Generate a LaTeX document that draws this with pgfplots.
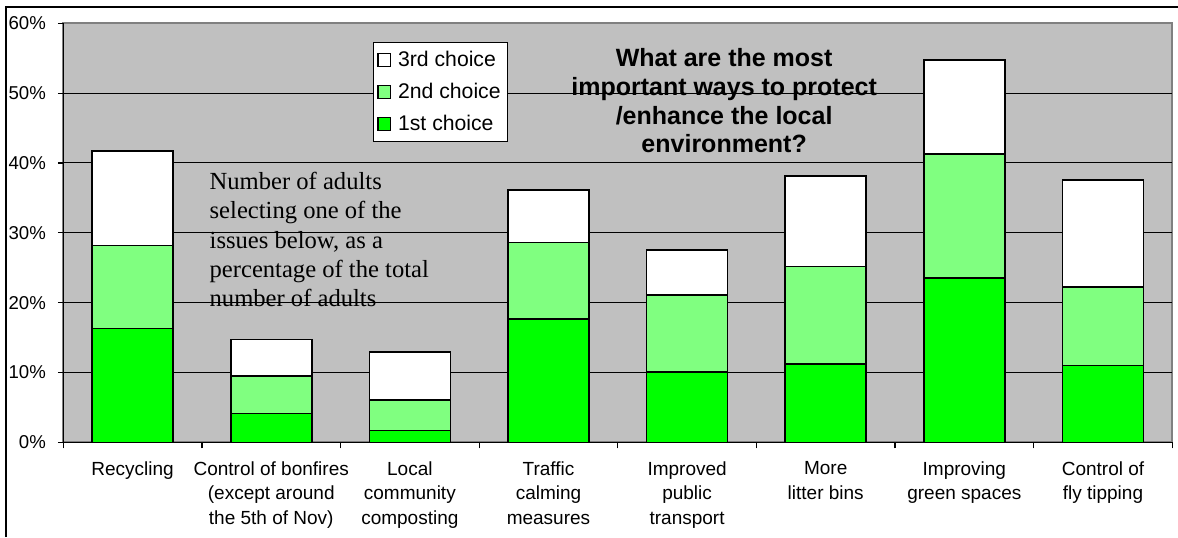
\documentclass[border=0pt]{standalone}
\usepackage{pgfplots}
\pgfplotsset{compat=1.18}
\usepackage{pgfplotstable}
\usepackage{fontspec}
\setmainfont{Liberation Sans}
\newfontfamily\seriffont{Liberation Serif}
\definecolor{bg}{HTML}{C0C0C0}
\definecolor{gone}{HTML}{00FF00}
\definecolor{gtwo}{HTML}{80FF80}
\definecolor{frame}{HTML}{808080}
\pgfplotstableread{
x first second third
0 16.3 11.9 13.5
1 4.1 5.4 5.2
2 1.7 4.35 6.85
3 17.7 10.9 7.5
4 10.1 11.0 6.45
5 11.2 14.0 12.9
6 23.5 17.75 13.5
7 11.0 11.2 15.4
}\datatable
\begin{document}
\begin{tikzpicture}
\begin{axis}[
  scale only axis,
  width=554.5pt, height=209.5pt,
  xmin=-0.5, xmax=7.5, ymin=0, ymax=60,
  ybar stacked, bar width=0.584,
  axis background/.style={fill=bg, draw=frame, line width=1pt},
  axis x line*=bottom, axis y line*=left,
  axis line style={-, black, line width=0.7pt},
  tick align=outside,
  major tick length=2.7pt, minor tick length=3pt,
  xtick={0,...,7},
  xticklabels={Recycling, Control of bonfires\\(except around\\the 5th of Nov), Local\\community\\composting, Traffic\\calming\\measures, Improved\\public\\transport, More\\litter bins, Improving\\green spaces, Control of\\fly tipping},
  xtick style={draw=none},
  minor xtick={-0.5,0.5,...,7.5},
  minor x tick style={draw=black, line width=0.6pt},
  xticklabel style={align=center, font=\fontsize{9.5}{12.25}\selectfont, yshift=-3.4pt},
  ytick={10,20,30,40,50},
  yticklabels={10\%,20\%,30\%,40\%,50\%},
  extra y ticks={0,60},
  extra y tick labels={0\%,60\%},
  extra y tick style={grid=none},
  ytick style={draw=black, line width=0.6pt},
  yticklabel style={font=\fontsize{9.3}{11}\selectfont, xshift=-2.5pt},
  ymajorgrids,
  grid style={black, line width=0.5pt},
  legend image code/.code={\draw[#1, draw=black, line width=0.6pt] (2.2pt,-3.15pt) rectangle (8.5pt,3.15pt);},
  reverse legend,
  legend cell align=left,
  legend style={at={(axis cs:1.732,57.39)}, anchor=north west, draw=black, fill=white, line width=0.6pt,
    font=\fontsize{10.6}{13}\selectfont, inner xsep=2pt, inner ysep=2.8pt, row sep=3.8pt, column sep=2pt,
    nodes={inner sep=1.5pt}},
]
\addplot[fill=gone, draw=black, line width=0.8pt] table[x=x, y=first] {\datatable};
\addplot[fill=gtwo, draw=black, line width=0.8pt] table[x=x, y=second] {\datatable};
\addplot[fill=white, draw=black, line width=0.8pt] table[x=x, y=third] {\datatable};
\legend{1st choice, 2nd choice, 3rd choice}
\node[anchor=north, align=center, inner sep=0pt, font=\fontsize{12.5}{14.35}\selectfont\bfseries]
  at (axis cs:4.267,56.45) {What are the most\\important ways to protect\\/enhance the local\\environment?};
\node[anchor=north west, align=left, inner sep=0pt, font=\seriffont\fontsize{12.3}{14.6}\selectfont]
  at (axis cs:0.553,38.7) {Number of adults\\selecting one of the\\issues below, as a\\percentage of the total\\number of adults};
\end{axis}
\draw[black, line width=0.75pt] (-28.65pt,-47.35pt) -- (-28.65pt,217.65pt) -- (557.35pt,217.65pt);
\pgfresetboundingbox
\path (-31.65pt,-47.35pt) rectangle (557.35pt,221.15pt);
\end{tikzpicture}
\end{document}
